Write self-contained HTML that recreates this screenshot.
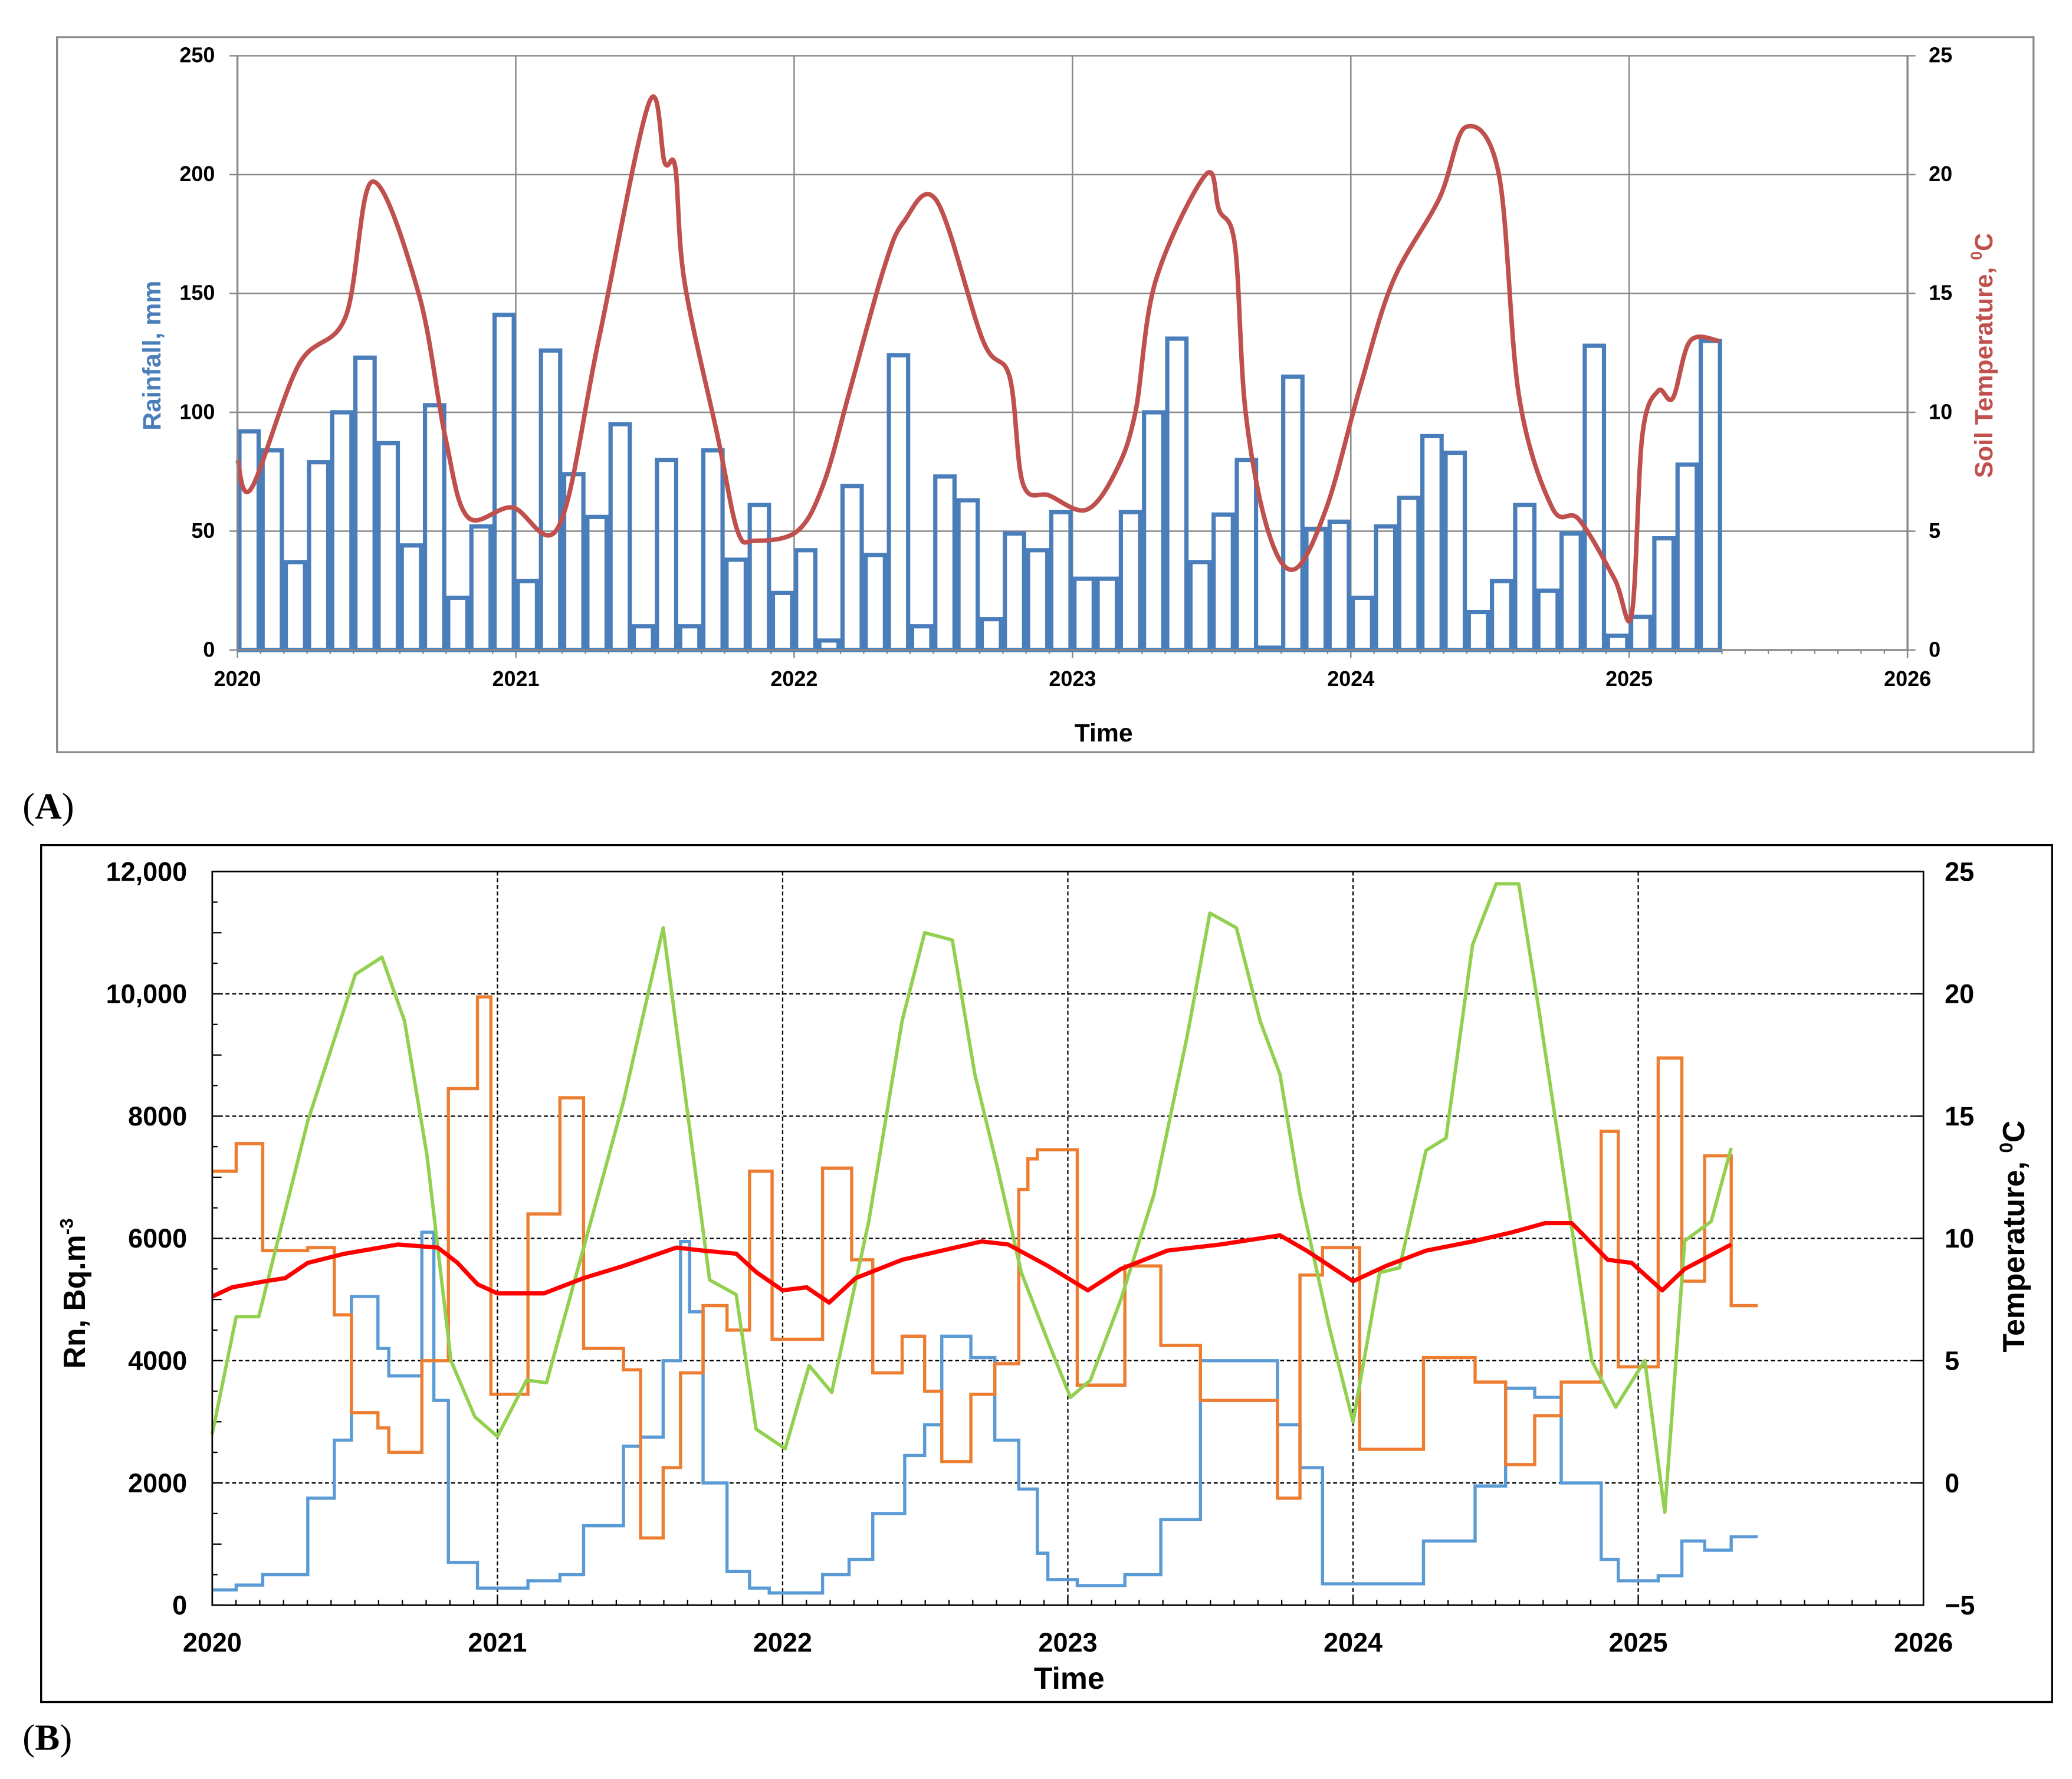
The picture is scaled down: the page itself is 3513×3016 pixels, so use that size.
<!DOCTYPE html>
<html><head><meta charset="utf-8"><style>
html,body{margin:0;padding:0;background:#fff}
svg{display:block}
text{font-family:"Liberation Sans",Arial,sans-serif}
text.serif{font-family:"Liberation Serif","Times New Roman",serif}
</style></head><body>
<svg id="fig" xmlns="http://www.w3.org/2000/svg" width="3513" height="3016" viewBox="0 0 1562 1341">
<rect x="0" y="0" width="1562" height="1341" fill="#fff"/>
<g id="chartA"></g>
<g id="chartB"></g>
</svg>
<script>
// ===== Chart A data =====
const rainMonths = [92,84,37,79,100,123,87,44,103,22,52,141,
 29,126,74,56,95,10,80,10,84,38,61,24,
 42,4,69,40,124,10,73,63,13,49,42,58,
 30,30,58,100,131,37,57,80,1,115,51,54,
 22,52,64,90,83,16,29,61,25,49,128,6,
 14,47,78,130];
const soilT = [0,0.05,0.22,0.388,0.484,0.651,0.746,0.827,0.987,1.154,1.297,1.478,1.535,1.573,1.606,1.725,1.797,1.859,2.011,2.106,2.202,2.321,2.393,2.512,2.679,2.774,2.822,2.917,3.05,3.155,3.226,3.298,3.479,3.527,3.584,3.622,3.703,3.798,3.913,4.032,4.151,4.318,4.413,4.532,4.604,4.723,4.819,4.947,5.009,5.047,5.104,5.157,5.219,5.324];
const soilV = [8,6.8,12,14,19.7,15,9,5.6,6,5.2,13,23,20.5,20.3,15.5,9,5,4.6,5,7,11,16,18,18.9,13,11.5,7,6.5,5.9,7.5,10,15.5,20,18.5,17,10,5,3.4,6,11,15.5,19,22,20,10.7,6,5.5,3,1.5,9,10.9,10.6,13,13];
const yearTicks = ["2020","2021","2022","2023","2024","2025","2026"];
const rainTicks = [0,50,100,150,200,250];
const tempTicksA = [0,5,10,15,20,25];

// ===== Chart B data =====
const blueT = [0,.084,.177,.335,.428,.488,.581,.619,.735,.777,.828,.930,1.107,1.219,1.302,1.442,1.502,1.581,1.642,1.674,1.721,1.805,1.884,1.953,2.140,2.233,2.316,2.428,2.498,2.558,2.660,2.744,2.828,2.893,2.930,3.033,3.200,3.326,3.465,3.735,3.814,3.893,4.247,4.428,4.535,4.637,4.730,4.870,4.930,5.070,5.153,5.233,5.326,5.419];
const blueV = [250,330,500,1750,2700,5050,4200,3750,6100,3350,700,280,400,500,1300,2600,2750,4000,5950,4800,2000,550,280,200,500,750,1500,2450,2950,4400,4050,2700,1900,850,420,320,500,1400,4000,2950,2250,350,1050,1950,3550,3400,2000,750,400,480,1050,900,1120];
const orangeT = [0,.084,.177,.335,.428,.488,.581,.619,.735,.828,.930,.977,1.107,1.219,1.302,1.442,1.502,1.581,1.642,1.721,1.805,1.884,1.963,2.140,2.242,2.316,2.419,2.498,2.558,2.660,2.744,2.828,2.860,2.893,3.033,3.200,3.326,3.465,3.735,3.814,3.893,4.023,4.247,4.428,4.535,4.637,4.730,4.870,4.930,5.070,5.153,5.233,5.326,5.419];
const orangeV = [7100,7550,5800,5850,4750,3150,2900,2500,4000,8450,9950,3450,6400,8300,4200,3850,1100,2250,3800,4900,4500,7100,4350,7150,5650,3800,4400,3500,2350,3450,3950,6800,7300,7450,3600,5550,4250,3350,1750,5400,5850,2550,4050,3650,2300,3100,3650,7750,3900,8950,5300,7350,4900];
const redT = [0,.07,.186,.256,.335,.465,.651,.791,.86,.93,1.0,1.163,1.302,1.442,1.628,1.721,1.837,1.907,2.0,2.084,2.163,2.256,2.419,2.698,2.791,2.93,3.07,3.186,3.349,3.535,3.744,3.837,4.0,4.116,4.256,4.419,4.558,4.674,4.767,4.893,4.977,5.084,5.163,5.326];
const redV = [5050,5200,5300,5350,5600,5750,5900,5850,5600,5250,5100,5100,5350,5550,5850,5800,5750,5450,5150,5200,4950,5350,5650,5950,5900,5550,5150,5500,5800,5900,6050,5800,5300,5550,5800,5950,6100,6250,6250,5650,5600,5150,5500,5900];
const greenT = [0,.084,.163,.335,.502,.595,.674,.753,.837,.921,1.0,1.102,1.172,1.302,1.442,1.581,1.744,1.837,1.907,2.009,2.093,2.172,2.302,2.419,2.498,2.595,2.674,2.753,2.837,2.930,3.009,3.079,3.186,3.302,3.419,3.498,3.591,3.674,3.744,3.814,3.916,4.0,4.093,4.163,4.256,4.326,4.419,4.502,4.581,4.651,4.735,4.837,4.921,5.023,5.093,5.163,5.256,5.326];
const greenV = [2.0,6.8,6.8,14.8,20.8,21.5,18.9,13.4,5.0,2.7,1.9,4.2,4.1,9.6,15.6,22.7,8.3,7.7,2.2,1.4,4.8,3.7,10.7,18.9,22.5,22.2,16.7,12.9,8.6,5.8,3.5,4.2,7.5,11.8,18.3,23.3,22.7,18.9,16.7,11.8,6.4,2.5,8.6,8.8,13.6,14.1,22.0,24.5,24.5,19.4,12.9,5.0,3.1,5.0,-1.2,9.9,10.7,13.7];
const rnTicks = ["0","2000","4000","6000","8000","10,000","12,000"];
const rnTickVals = [0,2000,4000,6000,8000,10000,12000];
const tempTicksB = [25,20,15,10,5,0,-5];

const NS="http://www.w3.org/2000/svg";
function mk(parent,tag,attrs,txt){const e=document.createElementNS(NS,tag);for(const k in attrs)e.setAttribute(k,attrs[k]);if(txt!==undefined)e.textContent=txt;parent.appendChild(e);return e;}

// ===== Chart A =====
(function(){
const g=document.getElementById('chartA');
const X0=179,X1=1438,Y0=490,Y1=42;
const xA=t=>X0+(t/6)*(X1-X0);
const yR=v=>Y0-(v/250)*(Y0-Y1);
const yT=v=>Y0-(v/25)*(Y0-Y1);
let e=mk(g,'rect',{x:43,y:28,width:1490,height:539,fill:'#fff',stroke:'#8a8a8a','stroke-width':1.5});

rainTicks.forEach(v=>{
 let l=mk(g,'line',{x1:X0-6,x2:X1,y1:yR(v),y2:yR(v),stroke:'#888','stroke-width':1.1});
 
 let t=mk(g,'text',{x:162,y:yR(v)+5,'text-anchor':'end','font-size':16,'font-weight':'bold',fill:'#000'},String(v));
 
});
tempTicksA.forEach(v=>{
 let l=mk(g,'line',{x1:X1,x2:X1+6,y1:yT(v),y2:yT(v),stroke:'#888','stroke-width':1.1});
 
 let t=mk(g,'text',{x:1454,y:yT(v)+5,'font-size':16,'font-weight':'bold',fill:'#000'},String(v));
 
});
yearTicks.forEach((y,i)=>{
 let l=mk(g,'line',{x1:xA(i),x2:xA(i),y1:Y1,y2:Y0+6,stroke:'#888','stroke-width':1.1});
 
 let t=mk(g,'text',{x:xA(i),y:517,'text-anchor':'middle','font-size':16,'font-weight':'bold',fill:'#000'},y);
 
});
for(let m=0;m<=72;m++){let l=mk(g,'line',{x1:xA(m/12),x2:xA(m/12),y1:Y0,y2:Y0+3,stroke:'#888','stroke-width':1});
 }
e=mk(g,'line',{x1:X1,x2:X1,y1:Y1,y2:Y0,stroke:'#888','stroke-width':1.5});

rainMonths.forEach((v,i)=>{
 const xa=xA(i/12)+1.5,xb=xA((i+1)/12)-1.5;
 let r=mk(g,'rect',{x:xa,y:yR(v),width:xb-xa,height:Y0-yR(v),fill:'none',stroke:'#4a7ebb','stroke-width':3.2});
 
});
const pts=soilT.map((t,i)=>[xA(t),yT(soilV[i])]);
let d='M'+pts[0][0]+','+pts[0][1];
for(let i=0;i<pts.length-1;i++){const p0=pts[Math.max(0,i-1)],p1=pts[i],p2=pts[i+1],p3=pts[Math.min(pts.length-1,i+2)];
 d+=` C${p1[0]+(p2[0]-p0[0])/6},${p1[1]+(p2[1]-p0[1])/6} ${p2[0]-(p3[0]-p1[0])/6},${p2[1]-(p3[1]-p1[1])/6} ${p2[0]},${p2[1]}`;}
e=mk(g,'path',{d:d,fill:'none',stroke:'#c0504d','stroke-width':3.4,'stroke-linejoin':'round'});

e=mk(g,'line',{x1:X0,x2:X0,y1:Y1,y2:Y0,stroke:'#888','stroke-width':1.5});

e=mk(g,'line',{x1:X0,x2:X1,y1:Y0,y2:Y0,stroke:'#888','stroke-width':1.5});

e=mk(g,'text',{x:0,y:0,transform:'translate(121,268) rotate(-90)','text-anchor':'middle','font-size':19,'font-weight':'bold',fill:'#4a7ebb'},'Rainfall, mm');

e=mk(g,'text',{x:0,y:0,transform:'translate(1502,268) rotate(-90)','text-anchor':'middle','font-size':19,'font-weight':'bold',fill:'#c0504d'});
e.innerHTML='Soil Temperature, <tspan font-size="12" dy="-8">0</tspan><tspan dy="8">C</tspan>';

e=mk(g,'text',{x:832,y:559,'text-anchor':'middle','font-size':19,'font-weight':'bold',fill:'#000'},'Time');

e=mk(g,'text',{x:17,y:617,'font-size':28,'class':'serif',fill:'#000'});
e.innerHTML='(<tspan font-weight="bold">A</tspan>)';

})();

// ===== Chart B =====
(function(){
const g=document.getElementById('chartB');
const X0=160,X1=1450,Y0=1210,Y1=657;
const xB=t=>X0+(t/6)*(X1-X0);
const yL=v=>Y0-(v/12000)*(Y0-Y1);
const yT=v=>Y0-((v+5)/30)*(Y0-Y1);
let e=mk(g,'rect',{x:31,y:637,width:1516,height:646,fill:'#fff',stroke:'#000','stroke-width':1.5});

rnTickVals.forEach((v,i)=>{
 if(v>0){let l=mk(g,'line',{x1:X0,x2:X1,y1:yL(v),y2:yL(v),stroke:'#000','stroke-width':1,'stroke-dasharray':'3,2'});
 }
 let t=mk(g,'text',{x:141,y:yL(v)+7,'text-anchor':'end','font-size':20,'font-weight':'bold',fill:'#000'},rnTicks[i]);
 
});
for(let v=0;v<=12000;v+=500){let l=mk(g,'line',{x1:X0,x2:X0+(v%1000?4:7),y1:yL(v),y2:yL(v),stroke:'#000','stroke-width':1});
 }
tempTicksB.forEach(v=>{
 let l=mk(g,'line',{x1:X1-7,x2:X1,y1:yT(v),y2:yT(v),stroke:'#000','stroke-width':1});
 
 let t=mk(g,'text',{x:1466,y:yT(v)+7,'font-size':20,'font-weight':'bold',fill:'#000'},v<0?'\u2212'+(-v):String(v));
 
});
yearTicks.forEach((y,i)=>{
 if(i>0&&i<6){let l=mk(g,'line',{x1:xB(i),x2:xB(i),y1:Y1,y2:Y0,stroke:'#000','stroke-width':1,'stroke-dasharray':'3,2'});
 }
 let t=mk(g,'text',{x:xB(i),y:1245,'text-anchor':'middle','font-size':20,'font-weight':'bold',fill:'#000'},y);
 
});
for(let m=0;m<=72;m++){let l=mk(g,'line',{x1:xB(m/12),x2:xB(m/12),y1:Y0-(m%12?4:7),y2:Y0,stroke:'#000','stroke-width':1});
 }
function step(T,V){let d='';for(let i=0;i<V.length;i++){const xa=xB(T[i]),xb=xB(T[i+1]),y=yL(V[i]);d+=(i?'L':'M')+xa+','+y+'L'+xb+','+y;}return d;}
e=mk(g,'path',{d:step(blueT,blueV),fill:'none',stroke:'#5b9bd5','stroke-width':2.4});

e=mk(g,'path',{d:step(orangeT,orangeV),fill:'none',stroke:'#ed7d31','stroke-width':2.4});

e=mk(g,'path',{d:'M'+greenT.map((t,i)=>xB(t)+','+yT(greenV[i])).join('L'),fill:'none',stroke:'#92d050','stroke-width':2.6,'stroke-linejoin':'round'});

e=mk(g,'path',{d:'M'+redT.map((t,i)=>xB(t)+','+yL(redV[i])).join('L'),fill:'none',stroke:'#ff0000','stroke-width':3.2,'stroke-linejoin':'round'});

e=mk(g,'rect',{x:X0,y:Y1,width:X1-X0,height:Y0-Y1,fill:'none',stroke:'#000','stroke-width':1.2});

e=mk(g,'text',{x:0,y:0,transform:'translate(64,975) rotate(-90)','text-anchor':'middle','font-size':23,'font-weight':'bold',fill:'#000'});
e.innerHTML='Rn, Bq.m<tspan font-size="14" dy="-9">-3</tspan>';

e=mk(g,'text',{x:0,y:0,transform:'translate(1526,932) rotate(-90)','text-anchor':'middle','font-size':23,'font-weight':'bold',fill:'#000'});
e.innerHTML='Temperature, <tspan font-size="14" dy="-9">0</tspan><tspan dy="9">C</tspan>';

e=mk(g,'text',{x:806,y:1273,'text-anchor':'middle','font-size':23,'font-weight':'bold',fill:'#000'},'Time');

e=mk(g,'text',{x:17,y:1319,'font-size':28,'class':'serif',fill:'#000'});
e.innerHTML='(<tspan font-weight="bold">B</tspan>)';

})();
</script>
</body></html>
